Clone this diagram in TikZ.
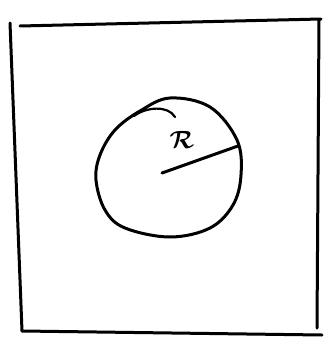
\documentclass[tikz,border=0pt]{standalone}
\usepackage{bm}
\begin{document}
\begin{tikzpicture}[x=1pt,y=-1pt,
  sketch/.style={line width=3pt,line cap=round,line join=round,black}]
\useasboundingbox (0,0) rectangle (328,348);
% square
\coordinate (tl) at (10,23);
\coordinate (tr) at (321,19);
\coordinate (br) at (318,333);
\coordinate (bl) at (22,331);
\draw[sketch] (20,26) -- (tr);
\draw[sketch] (tl) -- (bl);
\draw[sketch] (bl) -- (322,335);
\draw[sketch] (319,20) -- (317,328);
% circle
\draw[sketch] plot[smooth cycle,tension=0.6] coordinates {
  (170,98) (140,111) (115,130) (100,155) (96,180) (105,210) (125,228)
  (170,237) (210,228) (233,205) (241,175) (237,140) (210,107)};
% small arc stroke
\draw[sketch,line width=2.2pt] (134,116) .. controls (146,107) and (168,105) .. (175,117);
% radius
\coordinate (c) at (162,173);
\coordinate (e) at (238,146);
\draw[sketch] (c) -- (e);
\node[font=\fontsize{30}{34}\selectfont] (R) at (182,140) {$\bm{\mathcal{R}}$};
\end{tikzpicture}
\end{document}
